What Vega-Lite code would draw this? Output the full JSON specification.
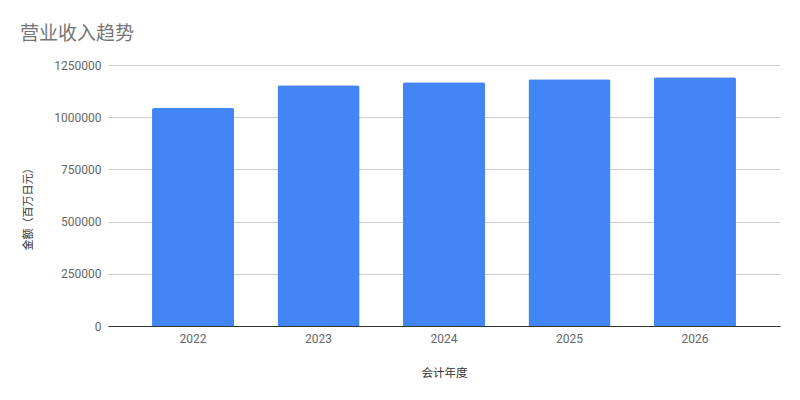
{
  "$schema": "https://vega.github.io/schema/vega-lite/v6.json",
  "width": 672,
  "height": 261,
  "autosize": {"type": "none"},
  "padding": {"left": 108, "top": 65, "right": 20, "bottom": 74},
  "background": "white",
  "config": {
    "view": {"stroke": null},
    "font": "Roboto, 'Noto Sans CJK SC', sans-serif"
  },
  "title": {
    "text": "营业收入趋势",
    "anchor": "start",
    "frame": "group",
    "dx": -88,
    "dy": -11,
    "fontSize": 19,
    "fontWeight": "normal",
    "color": "#757575",
    "font": "Roboto, 'Noto Sans CJK SC', sans-serif"
  },
  "data": {
    "values": [
      {"year": "2022", "amount": 1044500},
      {"year": "2023", "amount": 1153100},
      {"year": "2024", "amount": 1167500},
      {"year": "2025", "amount": 1181800},
      {"year": "2026", "amount": 1191400}
    ]
  },
  "mark": {
    "type": "bar",
    "color": "#4285F4",
    "cornerRadiusTopLeft": 2,
    "cornerRadiusTopRight": 2
  },
  "encoding": {
    "x": {
      "field": "year",
      "type": "ordinal",
      "scale": {"paddingInner": 0.346, "paddingOuter": 0.351},
      "axis": {
        "title": "会计年度",
        "labelAngle": 0,
        "domain": true,
        "domainColor": "#333333",
        "domainWidth": 1,
        "ticks": false,
        "tickSize": 0,
        "labelColor": "#666666",
        "labelFontSize": 12,
        "labelPadding": 7,
        "titleFontSize": 11.5,
        "titleFontWeight": "normal",
        "titleColor": "#333333",
        "titleY": 47,
        "titleBaseline": "middle"
      }
    },
    "y": {
      "field": "amount",
      "type": "quantitative",
      "scale": {"domain": [0, 1250000], "nice": false},
      "axis": {
        "title": "金额（百万日元）",
        "values": [0, 250000, 500000, 750000, 1000000, 1250000],
        "format": "d",
        "domain": false,
        "ticks": false,
        "tickSize": 0,
        "gridColor": "#cccccc",
        "labelColor": "#666666",
        "labelFontSize": 12,
        "labelPadding": 7,
        "titleFontSize": 11,
        "titleFontWeight": "normal",
        "titleColor": "#333333",
        "titleAngle": -90,
        "titleX": -80,
        "titleY": 141,
        "titleAlign": "center",
        "titleBaseline": "middle"
      }
    }
  }
}
